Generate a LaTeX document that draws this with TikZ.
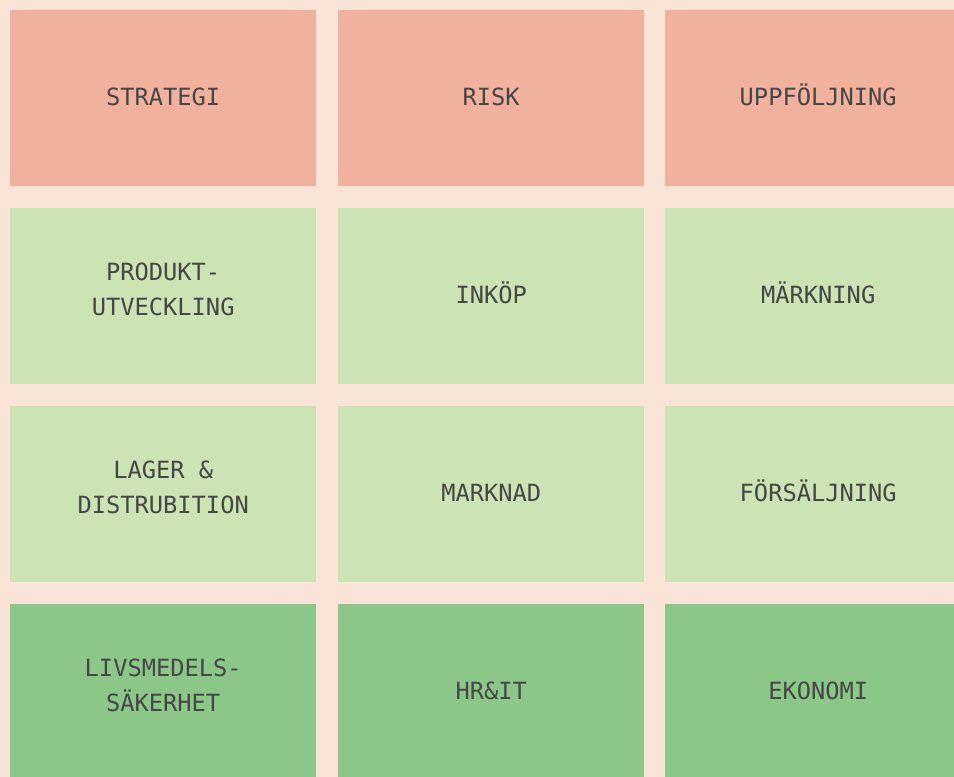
\documentclass[tikz,border=0pt]{standalone}
\usepackage{fontspec}
\newfontfamily\cellfont{DejaVu Sans Mono}
\definecolor{bgc}{RGB}{250,228,216}
\definecolor{topc}{RGB}{240,177,157}
\definecolor{midc}{RGB}{204,227,180}
\definecolor{lowc}{RGB}{139,200,135}
\definecolor{txtc}{RGB}{70,70,70}
\begin{document}
\begin{tikzpicture}[x=1pt,y=-1pt,
  cell/.style={draw=none,minimum width=306pt,minimum height=176pt,inner sep=0pt,
    anchor=north west},
  topcell/.style={cell,fill=topc},
  midcell/.style={cell,fill=midc},
  lowcell/.style={cell,fill=lowc},
  lblbase/.style={inner sep=0pt,align=center,text=txtc,
    font=\cellfont\fontsize{23.7}{35}\selectfont,
    execute at begin node=\vphantom{Ö}},
  lbl/.style={lblbase,yshift=3pt},
  twoline/.style={lblbase,yshift=7pt}]
\useasboundingbox (0,0) rectangle (954,777);
\clip (0,0) rectangle (954,777);
\fill[bgc] (0,0) rectangle (954,777);
\node[topcell] (strategi) at (10,10) {};
\node[topcell] (risk) at (338,10) {};
\node[topcell] (uppf) at (665,10) {};
\node[midcell] (produkt) at (10,208) {};
\node[midcell] (inkop) at (338,208) {};
\node[midcell] (markning) at (665,208) {};
\node[midcell] (lager) at (10,406) {};
\node[midcell] (marknad) at (338,406) {};
\node[midcell] (forsalj) at (665,406) {};
\node[lowcell] (livs) at (10,604) {};
\node[lowcell] (hrit) at (338,604) {};
\node[lowcell] (ekonomi) at (665,604) {};
\node[lbl] (strategi-t) at (strategi.center) {STRATEGI};
\node[lbl] (risk-t) at (risk.center) {RISK};
\node[lbl] (uppf-t) at (uppf.center) {UPPFÖLJNING};
\node[twoline] (produkt-t) at (produkt.center) {PRODUKT-\\UTVECKLING};
\node[lbl] (inkop-t) at (inkop.center) {INKÖP};
\node[lbl] (markning-t) at (markning.center) {MÄRKNING};
\node[twoline] (lager-t) at (lager.center) {LAGER \&\\DISTRUBITION};
\node[lbl] (marknad-t) at (marknad.center) {MARKNAD};
\node[lbl] (forsalj-t) at (forsalj.center) {FÖRSÄLJNING};
\node[twoline] (livs-t) at (livs.center) {LIVSMEDELS-\\SÄKERHET};
\node[lbl] (hrit-t) at (hrit.center) {HR\&IT};
\node[lbl] (ekonomi-t) at (ekonomi.center) {EKONOMI};
\end{tikzpicture}
\end{document}
